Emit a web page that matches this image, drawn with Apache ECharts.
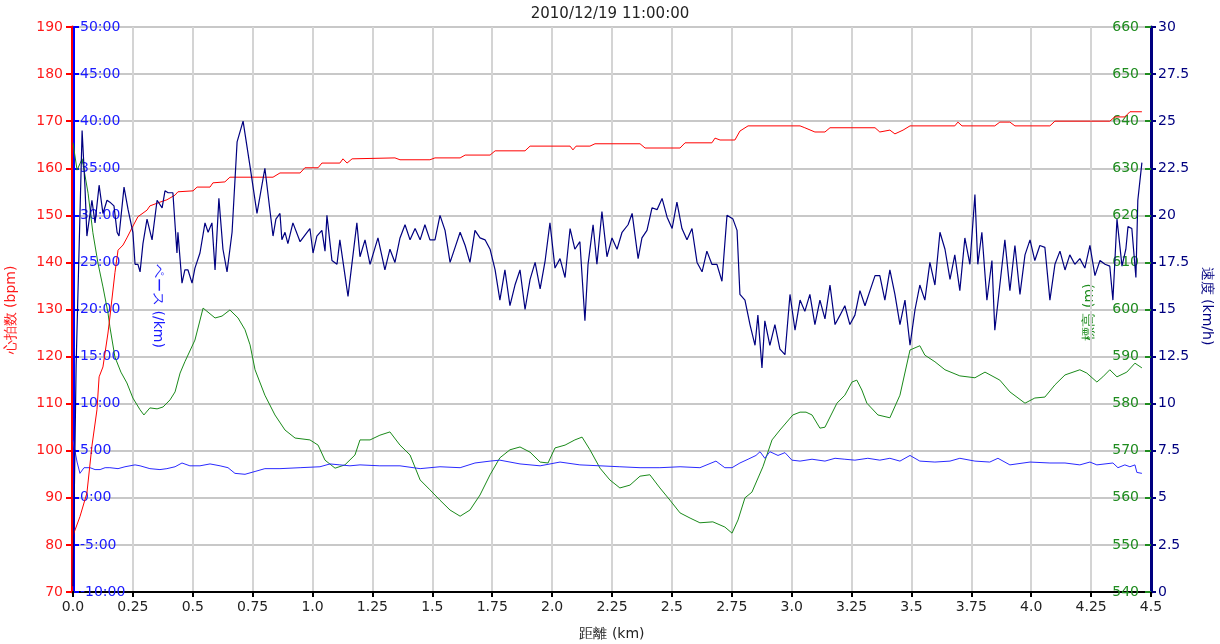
<!DOCTYPE html>
<html><head><meta charset="utf-8">
<script src="https://cdn.jsdelivr.net/npm/echarts@6/dist/echarts.min.js"></script>
<style>html,body{margin:0;padding:0;background:#fff}#c{width:1220px;height:644px}</style>
</head><body><div id="c"></div>
<script>
const titleText = '2010/12/19 11:00:00';
const xAxisName = '距離 (km)';
const hrAxisName = '心拍数 (bpm)';
const paceAxisName = 'ペース (/km)';
const elevAxisName = '標高 (m)';
const speedAxisName = '速度 (km/h)';

const distHR = [0,0.029,0.058,0.079,0.100,0.109,0.125,0.146,0.154,0.175,0.188,0.209,0.225,0.246,0.271,0.309,0.321,0.363,0.392,0.426,0.438,0.501,0.518,0.572,0.584,0.634,0.655,0.835,0.864,0.948,0.968,1.023,1.039,1.114,1.127,1.144,1.165,1.344,1.365,1.490,1.511,1.616,1.637,1.741,1.762,1.887,1.908,2.075,2.087,2.100,2.158,2.179,2.367,2.388,2.534,2.555,2.667,2.680,2.701,2.763,2.784,2.818,3.035,3.055,3.097,3.139,3.160,3.348,3.368,3.410,3.431,3.465,3.494,3.681,3.694,3.711,3.848,3.869,3.911,3.932,4.078,4.099,4.328,4.349,4.391,4.412,4.462];
const hrVals = [82,86,91,101,108.7,115.7,117.8,125,128.4,137.8,142.6,143.7,145.2,147.3,149.7,151.1,152,152.8,153.3,154.3,155,155.2,156,156,156.9,157.1,158.1,158.1,159,159,160.1,160.1,161.1,161.1,162,161.1,162,162.2,161.8,161.8,162.2,162.2,162.8,162.8,163.7,163.7,164.7,164.7,163.9,164.7,164.7,165.2,165.2,164.3,164.3,165.4,165.4,166.4,166,166,167.9,169,169,168.6,167.7,167.7,168.6,168.6,167.7,168.1,167.3,168.1,169,169,169.8,169,169,169.8,169.8,169,169,170,170,170.9,170.9,172,172];

const distElev = [0,0.017,0.038,0.063,0.083,0.104,0.125,0.146,0.154,0.175,0.200,0.225,0.250,0.280,0.296,0.321,0.351,0.376,0.405,0.426,0.447,0.467,0.509,0.543,0.593,0.622,0.655,0.689,0.718,0.739,0.760,0.801,0.843,0.885,0.927,0.989,1.023,1.052,1.094,1.135,1.177,1.198,1.240,1.281,1.323,1.365,1.407,1.449,1.490,1.532,1.574,1.616,1.657,1.699,1.741,1.782,1.824,1.866,1.908,1.950,1.983,2.012,2.054,2.095,2.125,2.158,2.200,2.241,2.283,2.325,2.367,2.408,2.450,2.492,2.534,2.576,2.617,2.671,2.721,2.751,2.776,2.805,2.834,2.880,2.918,2.951,3.005,3.035,3.060,3.085,3.118,3.139,3.189,3.222,3.252,3.272,3.293,3.314,3.360,3.410,3.452,3.494,3.535,3.556,3.598,3.640,3.702,3.765,3.807,3.869,3.911,3.974,4.015,4.057,4.099,4.141,4.203,4.232,4.274,4.299,4.328,4.358,4.399,4.433,4.462];
const elevVals = [635.4,629.6,632,624.7,616.3,609.9,604.8,599.3,596.3,589.9,586.7,584.4,581.2,578.7,577.6,579.1,578.9,579.3,580.8,582.5,586.5,588.9,593.5,600.3,598.2,598.6,599.9,598.2,595.7,592.5,587.2,581.8,577.6,574.4,572.7,572.3,571.2,568.0,566.3,567.0,569.1,572.3,572.3,573.3,574.0,571.2,569.1,563.8,561.7,559.5,557.4,556.1,557.4,560.6,564.9,568.5,570.2,570.8,569.7,567.6,567.4,570.6,571.2,572.3,572.9,570.2,566.3,563.8,562.1,562.7,564.6,564.9,562.1,559.5,556.8,555.7,554.7,554.9,553.8,552.5,555.3,560.0,561.2,566.6,572.3,574.4,577.6,578.2,578.2,577.6,574.8,575.0,580.1,581.8,584.6,585.0,582.9,580.1,577.6,577.0,581.8,591.4,592.3,590.3,588.9,587.2,585.9,585.5,586.7,585.0,582.5,580.1,581.2,581.4,584.0,586.1,587.2,586.5,584.6,585.7,587.2,585.7,586.7,588.6,587.6];

const distSpeed = [0,0.013,0.038,0.050,0.058,0.079,0.092,0.109,0.125,0.142,0.154,0.171,0.184,0.192,0.213,0.230,0.250,0.259,0.271,0.280,0.292,0.309,0.330,0.351,0.372,0.384,0.397,0.417,0.434,0.438,0.455,0.467,0.480,0.497,0.509,0.530,0.551,0.564,0.580,0.593,0.609,0.626,0.643,0.664,0.685,0.710,0.739,0.768,0.801,0.835,0.847,0.864,0.872,0.885,0.897,0.918,0.948,0.977,0.989,1.002,1.018,1.039,1.052,1.060,1.081,1.102,1.114,1.148,1.185,1.198,
1.219,1.240,1.273,1.302,1.323,1.344,1.365,1.386,1.407,1.428,1.449,1.469,1.490,1.511,1.532,1.553,1.574,1.595,1.616,1.637,1.657,1.678,1.699,1.720,1.741,1.762,1.782,1.803,1.824,1.845,1.866,1.887,1.908,1.929,1.950,1.971,1.991,2.012,2.033,2.054,2.075,2.095,2.116,2.137,2.150,2.171,2.187,2.208,2.229,2.250,2.271,2.292,2.317,2.334,2.359,2.375,2.396,2.417,2.438,2.459,2.480,2.501,2.521,2.542,2.563,2.584,2.605,2.626,2.646,2.667,2.688,2.709,2.730,2.755,2.772,2.784,2.805,2.826,2.847,2.859,2.876,2.888,2.909,2.930,2.951,2.972,2.993,3.014,3.035,3.055,3.076,3.097,3.118,3.139,3.160,3.181,3.202,3.222,3.243,3.264,3.285,3.306,3.327,3.348,3.368,3.389,3.410,3.431,3.452,3.473,3.494,3.515,3.535,3.556,3.577,3.598,3.619,3.640,3.661,3.681,3.702,3.723,3.744,3.765,3.777,3.794,3.815,3.836,3.848,3.869,3.890,3.911,3.932,3.953,3.974,3.995,4.015,4.036,4.057,4.078,4.099,4.120,4.141,4.161,4.182,4.203,4.224,4.245,4.266,4.287,4.308,4.328,4.341,4.358,4.379,4.395,4.404,4.420,4.437,4.445,4.462];
const speedVals = [0.3,12,24.5,21.5,18.9,20.8,19.6,21.6,20.1,20.8,20.7,20.5,19.1,18.9,21.5,20.3,19.1,17.4,17.4,17.0,18.5,19.8,18.7,20.8,20.4,21.3,21.2,21.2,18.0,19.1,16.4,17.1,17.1,16.4,17.2,18.0,19.6,19.1,19.6,17.1,20.9,18.2,17.0,19.1,23.9,25.0,22.6,20.1,22.5,18.9,19.8,20.1,18.7,19.1,18.5,19.6,18.6,19.1,19.3,18.0,18.9,19.2,18.1,20.0,17.6,17.4,18.7,15.7,19.6,17.8,
18.7,17.4,18.8,17.1,18.2,17.5,18.8,19.5,18.7,19.3,18.7,19.5,18.7,18.7,20.0,19.2,17.5,18.3,19.1,18.4,17.5,19.2,18.8,18.7,18.2,17.1,15.5,17.1,15.2,16.3,17.1,15.0,16.6,17.5,16.1,17.6,19.6,17.2,17.7,16.7,19.3,18.2,18.6,14.4,17.4,19.5,17.4,20.2,17.8,18.8,18.2,19.1,19.5,20.1,17.7,18.8,19.2,20.4,20.3,20.9,19.9,19.3,20.7,19.3,18.7,19.3,17.5,17.0,18.1,17.4,17.4,16.5,20.0,19.8,19.2,15.8,15.5,14.2,13.1,14.7,11.9,14.4,13.1,14.2,12.9,12.6,15.8,13.9,15.5,14.9,15.8,14.2,15.5,14.5,16.3,14.2,14.7,15.2,14.2,14.7,16.0,15.2,16.0,16.8,16.8,15.5,17.1,15.8,14.2,15.5,13.1,15.0,16.3,15.5,17.5,16.3,19.1,18.2,16.6,17.9,16.0,18.8,17.4,21.1,17.4,19.1,15.5,17.6,13.9,16.3,18.7,16.0,18.4,15.8,17.9,18.7,17.6,18.4,18.3,15.5,17.4,18.1,17.1,17.9,17.4,17.7,17.2,18.4,16.8,17.6,17.4,17.3,15.5,19.8,17.3,18.2,19.4,19.3,16.7,20.8,22.8];

const distPace = [0,0.017,0.029,0.046,0.071,0.092,0.113,0.134,0.154,0.188,0.217,0.259,0.280,0.321,0.363,0.392,0.426,0.455,0.488,0.530,0.572,0.614,0.647,0.676,0.718,0.760,0.801,0.864,0.948,1.031,1.073,1.114,1.156,1.198,1.281,1.365,1.449,1.532,1.616,1.678,1.741,1.782,1.866,1.950,2.033,2.116,2.200,2.283,2.367,2.450,2.534,2.617,2.684,2.721,2.751,2.784,2.818,2.851,2.868,2.888,2.909,2.943,2.972,3.001,3.035,3.085,3.139,3.181,3.222,3.264,3.318,3.368,3.410,3.452,3.494,3.535,3.598,3.661,3.702,3.765,3.827,3.861,3.911,3.995,4.078,4.141,4.203,4.245,4.274,4.308,4.341,4.362,4.391,4.412,4.433,4.441,4.462];
const paceVals = [6.1,3.8,2.6,3.2,3.2,3.0,3.0,3.2,3.2,3.1,3.3,3.5,3.4,3.1,3.0,3.1,3.3,3.7,3.4,3.4,3.6,3.4,3.2,2.6,2.5,2.8,3.1,3.1,3.2,3.3,3.6,3.5,3.4,3.5,3.4,3.4,3.1,3.3,3.2,3.7,3.9,4.0,3.6,3.4,3.8,3.5,3.4,3.3,3.2,3.2,3.3,3.2,3.9,3.2,3.2,3.7,4.1,4.5,4.9,4.2,4.9,4.5,4.8,4.0,3.9,4.1,3.9,4.2,4.1,4.0,4.2,4.0,4.2,3.9,4.5,3.9,3.8,3.9,4.2,3.9,3.8,4.2,3.5,3.8,3.7,3.7,3.5,3.8,3.5,3.6,3.7,3.2,3.5,3.3,3.5,2.7,2.6];

function pairs(d, v, name) {
  if (d.length !== v.length) throw new Error(name + ' length mismatch ' + d.length + ' vs ' + v.length);
  return d.map((x, i) => [x, v[i]]);
}

const FONT = 'DejaVu Sans';
const RED = '#ff1a1a', BLUE = '#1a1aff', GREEN = '#1f8c1f', NAVY = '#000080';
const chart = echarts.init(document.getElementById('c'), null, {renderer: 'canvas'});

function axisTitle(text, x, y, rot, color) {
  return {type: 'text', x: x, y: y, rotation: rot, silent: true,
    style: {text: text, fill: color, font: '14px "' + FONT + '"', align: 'center', verticalAlign: 'middle'}};
}

chart.setOption({
  animation: false,
  backgroundColor: '#fff',
  textStyle: {fontFamily: FONT},
  title: {text: titleText, left: 'center', top: 2, textStyle: {fontFamily: FONT, fontSize: 15, fontWeight: 'normal', color: '#222'}},
  grid: {left: 73, right: 69, top: 27, bottom: 52, containLabel: false, outerBoundsMode: 'none'},
  graphic: [
    axisTitle(hrAxisName, 11, 310, Math.PI / 2, RED),
    axisTitle(paceAxisName, 158, 306, -Math.PI / 2, BLUE),
    axisTitle(elevAxisName, 1089, 312, Math.PI / 2, GREEN),
    axisTitle(speedAxisName, 1207, 306, -Math.PI / 2, NAVY)
  ],
  xAxis: {
    type: 'value', min: 0, max: 4.5, interval: 0.25,
    name: xAxisName, nameLocation: 'middle', nameGap: 35,
    nameTextStyle: {fontFamily: FONT, fontSize: 14, color: '#222'},
    axisLine: {onZero: false, lineStyle: {color: '#000', width: 2}},
    axisTick: {length: 5, lineStyle: {color: '#000', width: 2}},
    axisLabel: {fontFamily: FONT, fontSize: 14, color: '#222', margin: 8,
      formatter: v => Number.isInteger(v) ? v.toFixed(1) : String(v)},
    splitLine: {show: true, lineStyle: {color: '#d4d4d4', width: 2}}
  },
  yAxis: [
    {type: 'value', min: 70, max: 190, interval: 10, position: 'left', offset: 1,
     axisLine: {show: true, onZero: false, lineStyle: {color: '#ff0000', width: 3}},
     axisTick: {show: true, length: 6, lineStyle: {color: '#ff0000', width: 2}},
     axisLabel: {fontFamily: FONT, fontSize: 14, color: RED, margin: 9},
     splitLine: {show: true, lineStyle: {color: '#c8c8c8', width: 2}}},
    {type: 'value', min: -10, max: 50, interval: 5, position: 'left', offset: -1,
     axisLine: {show: true, onZero: false, lineStyle: {color: '#0000ff', width: 2}},
     axisTick: {show: true, inside: true, length: 5, lineStyle: {color: '#0000ff', width: 2}},
     axisLabel: {inside: true, fontFamily: FONT, fontSize: 14, color: BLUE, margin: 6,
       formatter: v => v + ':00'},
     splitLine: {show: false}},
    {type: 'value', min: 540, max: 660, interval: 10, position: 'right', offset: 0,
     axisLine: {show: true, onZero: false, lineStyle: {color: GREEN, width: 2}},
     axisTick: {show: true, inside: true, length: 6, lineStyle: {color: GREEN, width: 2}},
     axisLabel: {inside: true, fontFamily: FONT, fontSize: 14, color: GREEN, margin: 12},
     splitLine: {show: false}},
    {type: 'value', min: 0, max: 30, interval: 2.5, position: 'right', offset: 0,
     axisLine: {show: true, onZero: false, lineStyle: {color: NAVY, width: 3}},
     axisTick: {show: true, length: 5, lineStyle: {color: NAVY, width: 2}},
     axisLabel: {fontFamily: FONT, fontSize: 14, color: NAVY, margin: 7},
     splitLine: {show: false}}
  ],
  series: [
    {type: 'line', name: '標高', yAxisIndex: 2, data: pairs(distElev, elevVals, 'elev'), showSymbol: false, symbol: 'none',
     lineStyle: {color: '#1a8a1a', width: 1}, z: 2},
    {type: 'line', name: 'ペース', yAxisIndex: 1, data: pairs(distPace, paceVals, 'pace'), showSymbol: false, symbol: 'none',
     lineStyle: {color: '#2a2aff', width: 1}, z: 3},
    {type: 'line', name: '心拍数', yAxisIndex: 0, data: pairs(distHR, hrVals, 'hr'), showSymbol: false, symbol: 'none',
     lineStyle: {color: '#ff0000', width: 1}, z: 4},
    {type: 'line', name: '速度', yAxisIndex: 3, data: pairs(distSpeed, speedVals, 'speed'), showSymbol: false, symbol: 'none',
     lineStyle: {color: NAVY, width: 1.2}, z: 5}
  ]
});
</script></body></html>
